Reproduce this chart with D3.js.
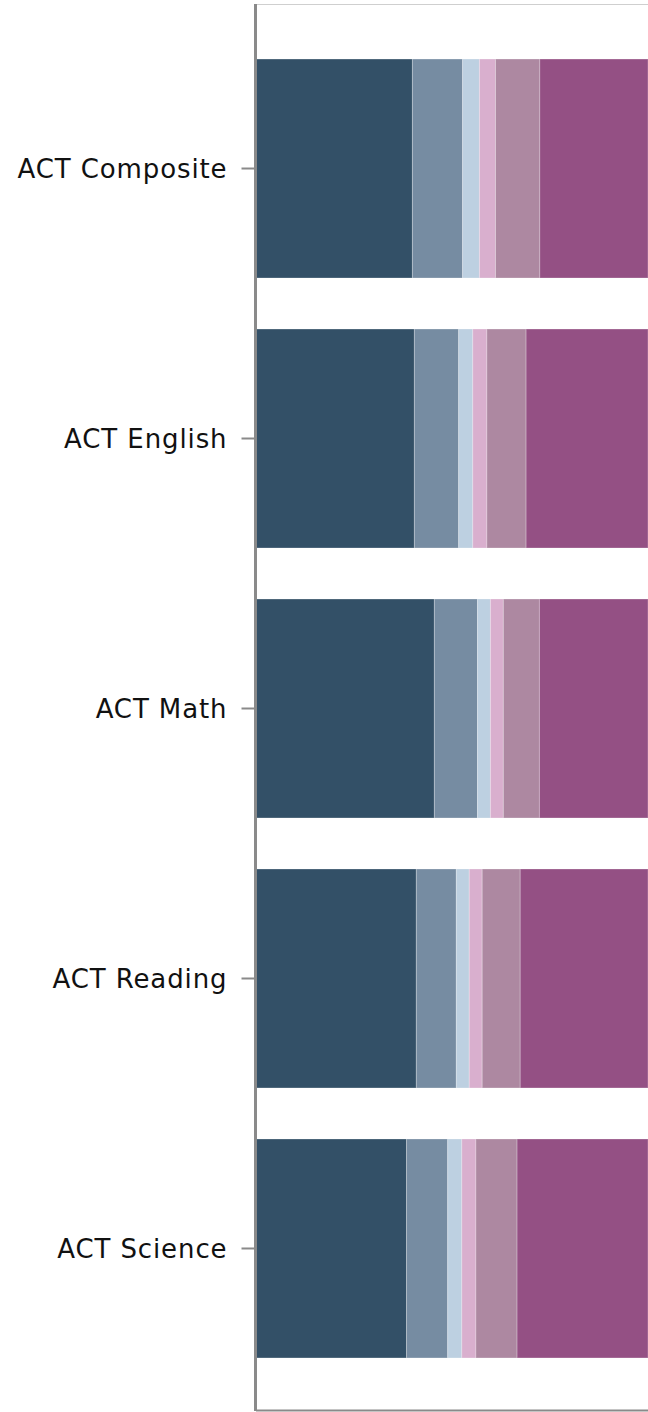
<!DOCTYPE html>
<html>
<head>
<meta charset="utf-8">
<script src="https://cdn.jsdelivr.net/npm/d3@7"></script>
<style>
  html, body { margin: 0; padding: 0; background: #ffffff; }
  svg { display: block; }
</style>
</head>
<body>
<div id="chart"></div>
<script>
const categories = ["ACT Composite", "ACT English", "ACT Math", "ACT Reading", "ACT Science"];
const seriesNames = ["s1", "s2", "s3", "s4", "s5", "s6"];
const seriesColors = ["#335067", "#768ca2", "#bdd0e1", "#d9afce", "#ad88a1", "#945084"];
const s1 = [39.9, 40.4, 45.5, 40.9, 38.4];
const s2 = [12.8, 11.3, 11.0, 10.2, 10.5];
const s3 = [4.3, 3.6, 3.3, 3.3, 3.6];
const s4 = [4.1, 3.6, 3.3, 3.3, 3.6];
const s5 = [11.3, 10.0, 9.2, 9.7, 10.5];
const s6 = [27.6, 31.1, 27.7, 32.6, 33.4];

const W = 648, H = 1412;
const margin = { left: 256, top: 8, right: 0, bottom: 3 };
const frameTop = 5, frameBottom = 1410;

const rows = categories.map((c, i) => ({
  cat: c, s1: s1[i], s2: s2[i], s3: s3[i], s4: s4[i], s5: s5[i], s6: s6[i]
}));
const stack = d3.stack().keys(seriesNames)(rows);

const svg = d3.select("#chart").append("svg")
  .attr("width", W).attr("height", H);

const x = d3.scaleLinear().domain([0, 100]).range([margin.left, W]);
const y = d3.scaleBand().domain(categories).range([margin.top, H - margin.bottom]).padding(0.189);

// frame top and bottom
svg.append("line").attr("x1", margin.left).attr("x2", W)
  .attr("y1", frameTop - 0.5).attr("y2", frameTop - 0.5)
  .attr("stroke", "#cfcfcf").attr("stroke-width", 1);
svg.append("line").attr("x1", margin.left).attr("x2", W)
  .attr("y1", frameBottom + 0.5).attr("y2", frameBottom + 0.5)
  .attr("stroke", "#8a8a8a").attr("stroke-width", 2);

svg.append("g").selectAll("g").data(stack).join("g")
  .attr("fill", (d, i) => seriesColors[i])
  .selectAll("rect").data(d => d).join("rect")
  .attr("x", d => x(d[0]))
  .attr("width", d => x(d[1]) - x(d[0]))
  .attr("y", d => y(d.data.cat))
  .attr("height", y.bandwidth())
  .attr("stroke", "#ffffff").attr("stroke-opacity", 0.25).attr("stroke-width", 1);

const axis = svg.append("g").attr("transform", `translate(${margin.left - 0.5},0)`)
  .call(d3.axisLeft(y).tickSize(14).tickPadding(14));
axis.select(".domain").attr("stroke", "#8a8a8a").attr("stroke-width", 3)
  .attr("d", `M0,${frameTop - 1}V${frameBottom + 1}`);
axis.selectAll(".tick line").attr("stroke", "#8a8a8a").attr("stroke-width", 2);
axis.selectAll(".tick text").attr("fill", "#111111").attr("dy", "0.38em")
  .style("font-family", "'DejaVu Sans', sans-serif").style("font-size", "26px")
  .style("letter-spacing", "0.9px");
</script>
</body>
</html>
